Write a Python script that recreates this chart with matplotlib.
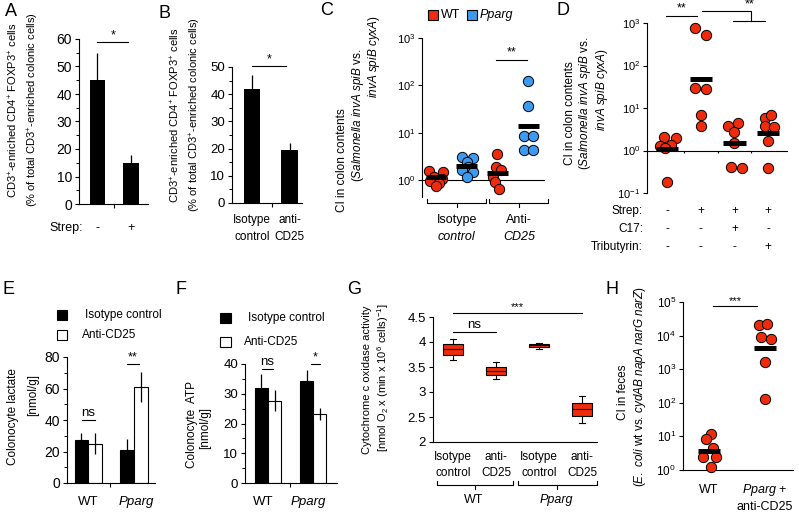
import matplotlib
matplotlib.use('Agg')
import matplotlib.pyplot as plt
import matplotlib.transforms as mtransforms
from matplotlib.patches import Rectangle
from matplotlib.ticker import NullLocator, MultipleLocator

plt.rcParams['font.family'] = ['Liberation Sans', 'DejaVu Sans']
plt.rcParams['mathtext.fontset'] = 'custom'
plt.rcParams['mathtext.rm'] = 'Liberation Sans'
plt.rcParams['mathtext.it'] = 'Liberation Sans:italic'
plt.rcParams['mathtext.bf'] = 'Liberation Sans:bold'
plt.rcParams['mathtext.default'] = 'regular'

# ---------------- data ----------------
# A
a_labels = ['-', '+']
a_means = [45, 15]
a_err = [10, 3]
# B
b_labels = ['Isotype\ncontrol', 'anti-\nCD25']
b_means = [42, 19.5]
b_err = [5, 2.5]
# C  (CI, log scale)
c_wt_iso = [1.55, 1.5, 1.15, 1.05, 0.95, 0.85, 0.76]
c_pp_iso = [3.1, 2.87, 2.45, 1.9, 1.63, 1.5, 1.18]
c_wt_anti = [3.55, 1.92, 1.63, 1.18, 0.89, 0.64]
c_pp_anti = [126, 35.8, 8.5, 8.5, 4.3, 4.4]
c_medians = [1.18, 1.98, 1.38, 13.5]
c_group_labels = [('Isotype', 'control'), ('Anti-', 'CD25')]
# D
d_g1 = [2.09, 2.0, 1.29, 1.38, 1.15, 0.18]
d_g2 = [765, 516, 29, 27.5, 6.8, 3.8]
d_g3 = [3.7, 4.4, 2.7, 1.5, 0.42, 0.38]
d_g4 = [5.8, 6.8, 3.8, 3.6, 1.63, 0.39]
d_medians = [1.1, 47, 1.49, 2.65]
d_rows = ['Strep:', 'C17:', 'Tributyrin:']
d_signs = [['-', '+', '+', '+'], ['-', '-', '+', '-'], ['-', '-', '-', '+']]
# E
e_groups = ['WT', 'Pparg']
e_iso = [27, 21]
e_iso_err = [4.5, 7]
e_anti = [25, 61]
e_anti_err = [6.5, 9.5]
# F
f_iso = [32, 34.2]
f_iso_err = [4.6, 3.8]
f_anti = [27.7, 23.3]
f_anti_err = [3.4, 2.0]
# G (box stats)
g_labels = ['Isotype\ncontrol', 'anti-\nCD25', 'Isotype\ncontrol', 'anti-\nCD25']
g_whislo = [3.65, 3.26, 3.87, 2.39]
g_q1 = [3.75, 3.34, 3.91, 2.53]
g_med = [3.86, 3.42, 3.94, 2.66]
g_q3 = [3.97, 3.51, 3.97, 2.79]
g_whishi = [4.07, 3.60, 3.99, 2.93]
# H
h_wt = [11.5, 8.2, 4.4, 2.5, 2.5, 1.2]
h_pp = [20400, 21800, 9100, 7800, 1650, 134]
h_medians = [3.7, 4300]

# ---------------- layout helpers ----------------
W, H = 799, 513
RED = '#EE2B0B'
BLUE = '#3C9BF0'
fig = plt.figure(figsize=(W / 100, H / 100), dpi=100)


def fy(y):
    return 1 - y / H


def add_ax(l, t, r, b):
    ax = fig.add_axes([l / W, 1 - b / H, (r - l) / W, (b - t) / H])
    ax.patch.set_alpha(0)
    for s in ['top', 'right']:
        ax.spines[s].set_visible(False)
    for s in ax.spines.values():
        s.set_linewidth(0.8)
    ax.tick_params(direction='out', length=3, width=0.8, pad=2)
    ax.tick_params(which='minor', direction='out', length=2, width=0.7)
    return ax


def btr(ax):
    return mtransforms.blended_transform_factory(ax.transData, fig.transFigure)


def ftext(x, y, s, **kw):
    fig.text(x / W, fy(y), s, **kw)


def vlabel(x, y, s, size=8):
    fig.text(x / W, fy(y), s, rotation=90, ha='center', va='center', fontsize=size)


def sig(ax, x0, x1, y, txt, size=9, off=0.5):
    ax.plot([x0, x1], [y, y], color='k', lw=0.8, clip_on=False)
    ax.annotate(txt, xy=((x0 + x1) / 2, y), xytext=(0, off), textcoords='offset points',
                ha='center', va='bottom', fontsize=size, annotation_clip=False)


def xlab(ax, x, ypix, s, size=8.5, **kw):
    ax.text(x, fy(ypix), s, transform=btr(ax), ha='center', va='center', fontsize=size, **kw)


def bracket(ax, x0, x1, xc, ypix, up=4, down=4):
    tr = btr(ax)
    y = fy(ypix)
    ax.plot([x0, x0, x1, x1], [y + up / H, y, y, y + up / H], transform=tr,
            color='k', lw=0.8, clip_on=False)
    ax.plot([xc, xc], [y, y - down / H], transform=tr, color='k', lw=0.8, clip_on=False)


def square(x0, y0, x1, y1, fc):
    fig.add_artist(Rectangle((x0 / W, fy(y1)), (x1 - x0) / W, (y1 - y0) / H,
                             transform=fig.transFigure, fc=fc, ec='k', lw=0.8))


def letter(x, y, s):
    ftext(x, y, s, fontsize=13, ha='center', va='center')


# ---------------- Panel A ----------------
letter(11, 12, 'A')
axA = add_ax(79, 39, 148, 204)
axA.bar([0, 1], a_means, width=0.45, color='k')
axA.errorbar([0, 1], a_means, yerr=[[0, 0], a_err], fmt='none', ecolor='k', elinewidth=0.9, capsize=0)
axA.set_ylim(0, 60)
axA.set_xlim(-0.552, 1.507)
axA.set_yticks(range(0, 61, 10))
axA.yaxis.set_minor_locator(MultipleLocator(5))
axA.tick_params(axis='y', labelsize=10)
axA.set_xticks([0.5])
axA.set_xticklabels([''])
sig(axA, -0.01, 0.92, 59, '*')
for i, s in enumerate(a_labels):
    xlab(axA, i, 228, s, size=9)
ftext(66, 228, 'Strep:', fontsize=9, ha='center', va='center')
vlabel(13, 110, 'CD3$^{+}$-enriched CD4$^{+}$ FOXP3$^{+}$ cells')
vlabel(33, 110, '(% of total CD3$^{+}$-enriched colonic cells)')

# ---------------- Panel B ----------------
letter(164, 13, 'B')
axB = add_ax(232, 67, 302, 203)
axB.bar([0, 1], b_means, width=0.43, color='k')
axB.errorbar([0, 1], b_means, yerr=[[0, 0], b_err], fmt='none', ecolor='k', elinewidth=0.9, capsize=0)
axB.set_ylim(0, 50)
axB.set_xlim(-0.533, 1.333)
axB.set_yticks(range(0, 51, 10))
axB.yaxis.set_minor_locator(MultipleLocator(5))
axB.tick_params(axis='y', labelsize=9.5)
axB.set_xticks([0.53])
axB.set_xticklabels([''])
sig(axB, 0.0, 0.9, 50.5, '*')
for i, s in enumerate(b_labels):
    a, b2 = s.split('\n')
    xlab(axB, i, 220, a, size=8.5)
    xlab(axB, i, 237, b2, size=8.5)
vlabel(175, 115, 'CD3$^{+}$-enriched CD4$^{+}$ FOXP3$^{+}$ cells')
vlabel(195, 115, '(% of total CD3$^{+}$-enriched colonic cells)')

# ---------------- Panel C ----------------
letter(327, 11, 'C')
axC = add_ax(422, 38, 545, 197)
axC.set_yscale('log')
axC.set_ylim(10 ** -0.36, 1000)
axC.set_xlim(-0.456, 3.55)
axC.spines['bottom'].set_visible(False)
axC.set_xticks([])
axC.axhline(1, color='k', lw=0.8, zorder=1)
axC.set_yticks([1, 10, 100, 1000])
axC.set_yticklabels(['$10^{0}$', '$10^{1}$', '$10^{2}$', '$10^{3}$'])
axC.yaxis.set_minor_locator(NullLocator())
axC.tick_params(axis='y', labelsize=8)
c_sets = [c_wt_iso, c_pp_iso, c_wt_anti, c_pp_anti]
c_offs = [[-0.22, 0.22, -0.05, 0.18, -0.2, 0.1, 0.0],
          [-0.16, 0.2, 0.0, 0.05, -0.16, 0.2, 0.0],
          [0.0, -0.06, 0.12, -0.15, -0.08, 0.05],
          [0.0, 0.0, -0.15, 0.15, -0.13, 0.15]]
c_cols = [RED, BLUE, RED, BLUE]
for i, vals in enumerate(c_sets):
    axC.scatter([i + o for o in c_offs[i]], vals, s=55, c=c_cols[i], edgecolors='k',
                linewidths=0.7, zorder=3, clip_on=False)
axC.hlines(c_medians, [i - 0.34 for i in range(4)], [i + 0.34 for i in range(4)],
           colors='k', lw=3.6, zorder=4)
sig(axC, 1.95, 2.97, 350, '**', size=9)
bracket(axC, -0.29, 1.63, 0.68, 203)
bracket(axC, 1.73, 3.65, 2.7, 203)
for xc, (l1, l2) in zip([0.68, 2.7], c_group_labels):
    xlab(axC, xc, 220, l1, size=9)
    xlab(axC, xc, 237, l2, size=9, style='italic')
square(428, 10, 438, 20, RED)
ftext(441, 15, 'WT', fontsize=9, va='center', ha='left')
square(467, 10, 477, 20, BLUE)
ftext(480, 15, 'Pparg', fontsize=9, va='center', ha='left', style='italic')
vlabel(342, 160, 'CI in colon contents', size=8.5)
vlabel(358, 115, r'($\mathit{Salmonella\ invA\ spiB}$ vs.', size=8.5)
vlabel(374, 57, r'$\mathit{invA\ spiB\ cyxA}$)', size=8.5)

# ---------------- Panel D ----------------
letter(563, 11, 'D')
axD = add_ax(647, 23, 788, 193)
axD.set_yscale('log')
axD.set_ylim(0.1, 1000)
axD.set_xlim(-0.593, 3.59)
axD.spines['bottom'].set_visible(False)
axD.set_xticks([])
axD.axhline(1, color='k', lw=0.8, zorder=1)
axD.vlines([0.5, 1.5, 2.5], 10 ** -0.07, 1, colors='k', lw=0.8)
axD.set_yticks([0.1, 1, 10, 100, 1000])
axD.set_yticklabels(['$10^{-1}$', '$10^{0}$', '$10^{1}$', '$10^{2}$', '$10^{3}$'])
axD.yaxis.set_minor_locator(NullLocator())
axD.tick_params(axis='y', labelsize=8)
d_sets = [d_g1, d_g2, d_g3, d_g4]
d_offs = [[-0.1, 0.27, -0.22, 0.12, -0.05, 0.0],
          [-0.17, 0.15, -0.17, 0.15, 0.0, 0.0],
          [-0.18, 0.12, 0.0, 0.0, -0.1, 0.22],
          [-0.1, 0.08, -0.1, 0.17, 0.0, 0.0]]
for i, vals in enumerate(d_sets):
    axD.scatter([i + o for o in d_offs[i]], vals, s=55, c=RED, edgecolors='k',
                linewidths=0.7, zorder=3, clip_on=False)
axD.hlines(d_medians, [i - 0.33 for i in range(4)], [i + 0.33 for i in range(4)],
           colors='k', lw=3.6, zorder=4)
sig(axD, -0.03, 0.89, 1500, '**', size=9)
axD.plot([1.04, 2.49, 2.49], [1870, 1870, 1140], color='k', lw=0.8, clip_on=False)
axD.plot([1.96, 2.91], [1140, 1140], color='k', lw=0.8, clip_on=False)
axD.annotate('**', xy=(2.45, 1870), xytext=(0, 0.5), textcoords='offset points',
             ha='center', va='bottom', fontsize=9, annotation_clip=False)
for r, (name, signs) in enumerate(zip(d_rows, d_signs)):
    yp = 211 + 18 * r
    ftext(643, yp, name, fontsize=8.5, ha='right', va='center')
    for i, s in enumerate(signs):
        xlab(axD, i, yp, s, size=8.5)
vlabel(570, 113, 'CI in colon contents', size=8.5)
vlabel(585, 103, r'($\mathit{Salmonella\ invA\ spiB}$ vs.', size=8.5)
vlabel(602, 90, r'$\mathit{invA\ spiB\ cyxA}$)', size=8.5)

# ---------------- Panel E ----------------
letter(9, 290, 'E')
axE = add_ax(67, 357, 155, 483)
xg = [0, 1]
axE.bar([x - 0.148 for x in xg], e_iso, width=0.295, color='k', edgecolor='k', lw=0.8)
axE.bar([x + 0.148 for x in xg], e_anti, width=0.295, color='white', edgecolor='k', lw=0.8)
axE.errorbar([x - 0.148 for x in xg], e_iso, yerr=e_iso_err, fmt='none', ecolor='k', elinewidth=0.9, capsize=0)
axE.errorbar([x + 0.148 for x in xg], e_anti, yerr=e_anti_err, fmt='none', ecolor='k', elinewidth=0.9, capsize=0)
axE.set_ylim(0, 80)
axE.set_xlim(-0.464, 1.459)
axE.set_yticks(range(0, 81, 20))
axE.yaxis.set_minor_locator(MultipleLocator(10))
axE.tick_params(axis='y', labelsize=10)
axE.set_xticks([0.48])
axE.set_xticklabels([''])
sig(axE, -0.14, 0.15, 40, 'ns', size=9.5)
sig(axE, 0.85, 1.11, 75.5, '**', size=9)
xlab(axE, 0, 502, 'WT', size=9.5)
xlab(axE, 1.05, 502, 'Pparg', size=9.5, style='italic')
square(57, 310, 67, 320, 'k')
ftext(85, 315, 'Isotype control', fontsize=8.5, va='center', ha='left')
square(57, 330, 67, 340, 'white')
ftext(82, 335, 'Anti-CD25', fontsize=8.5, va='center', ha='left')
vlabel(13, 417, 'Colonocyte lactate', size=8.5)
vlabel(33, 395, '[nmol/g]', size=8.5)

# ---------------- Panel F ----------------
letter(181, 290, 'F')
axF = add_ax(245, 364, 337, 483)
axF.bar([x - 0.146 for x in xg], f_iso, width=0.29, color='k', edgecolor='k', lw=0.8)
axF.bar([x + 0.146 for x in xg], f_anti, width=0.29, color='white', edgecolor='k', lw=0.8)
axF.errorbar([x - 0.146 for x in xg], f_iso, yerr=f_iso_err, fmt='none', ecolor='k', elinewidth=0.9, capsize=0)
axF.errorbar([x + 0.146 for x in xg], f_anti, yerr=f_anti_err, fmt='none', ecolor='k', elinewidth=0.9, capsize=0)
axF.set_ylim(0, 40)
axF.set_xlim(-0.508, 1.523)
axF.set_yticks(range(0, 41, 10))
axF.yaxis.set_minor_locator(MultipleLocator(5))
axF.tick_params(axis='y', labelsize=9.5)
axF.set_xticks([0.49])
axF.set_xticklabels([''])
sig(axF, -0.14, 0.12, 38.4, 'ns', size=9.5)
sig(axF, 0.94, 1.15, 40, '*', size=9)
xlab(axF, -0.1, 502, 'WT', size=9.5)
xlab(axF, 0.88, 502, 'Pparg', size=9.5, style='italic')
square(220, 313, 231, 323, 'k')
ftext(248, 318, 'Isotype control', fontsize=8.5, va='center', ha='left')
square(220, 337, 231, 347, 'white')
ftext(244, 342, 'Anti-CD25', fontsize=8.5, va='center', ha='left')
vlabel(192, 425, 'Colonocyte  ATP', size=8.5)
vlabel(205, 428, '[nmol/g]', size=8.5)

# ---------------- Panel G ----------------
letter(354, 289, 'G')
axG = add_ax(433, 317, 597, 442)
stats = [dict(med=m, q1=a, q3=b, whislo=lo, whishi=hi, fliers=[])
         for m, a, b, lo, hi in zip(g_med, g_q1, g_q3, g_whislo, g_whishi)]
axG.bxp(stats, positions=[0, 1, 2, 3], widths=0.465, patch_artist=True, showfliers=False,
        boxprops=dict(facecolor=RED, edgecolor='k', lw=0.8),
        medianprops=dict(color='k', lw=0.8),
        whiskerprops=dict(color='k', lw=0.8),
        capprops=dict(color='k', lw=0.8), capwidths=0.15)
axG.set_ylim(2, 4.5)
axG.set_xlim(-0.465, 3.35)
axG.set_yticks([2, 2.5, 3, 3.5, 4, 4.5])
axG.set_yticklabels(['2', '2.5', '3', '3.5', '4', '4.5'])
axG.tick_params(axis='y', labelsize=9.5)
axG.set_xticks([])
sig(axG, 0, 1, 4.2, 'ns', size=9.5)
sig(axG, 0, 3, 4.58, '***', size=8)
for i, s in enumerate(g_labels):
    a, b2 = s.split('\n')
    xlab(axG, i, 457, a, size=8.5)
    xlab(axG, i, 473, b2, size=8.5)
bracket(axG, -0.38, 1.4, 0.51, 485)
bracket(axG, 1.52, 3.34, 2.43, 485)
xlab(axG, 0.47, 500, 'WT', size=9)
xlab(axG, 2.41, 500, 'Pparg', size=9, style='italic')
vlabel(367, 380, 'Cytochrome c oxidase activity', size=8)
vlabel(383, 378, '[nmol O$_{2}$ x (min x 10$^{6}$ cells)$^{-1}$]', size=8)

# ---------------- Panel H ----------------
letter(612, 289, 'H')
axH = add_ax(683, 302, 793, 470)
axH.set_yscale('log')
axH.set_ylim(1, 1e5)
axH.set_xlim(-0.464, 1.5)
axH.set_xticks([])
axH.set_yticks([1, 10, 100, 1000, 10000, 100000])
axH.set_yticklabels(['$10^{0}$', '$10^{1}$', '$10^{2}$', '$10^{3}$', '$10^{4}$', '$10^{5}$'])
axH.yaxis.set_minor_locator(NullLocator())
axH.tick_params(axis='y', labelsize=8.5)
h_offs = [[0.04, -0.05, 0.08, -0.1, 0.12, 0.03],
          [-0.11, 0.04, -0.08, 0.1, 0.0, 0.0]]
for i, vals in enumerate([h_wt, h_pp]):
    axH.scatter([i + o for o in h_offs[i]], vals, s=55, c=RED, edgecolors='k',
                linewidths=0.7, zorder=3, clip_on=False)
axH.hlines(h_medians, [i - 0.2 for i in range(2)], [i + 0.2 for i in range(2)],
           colors='k', lw=3.6, zorder=4)
sig(axH, 0.07, 0.86, 74000, '***', size=8)
xlab(axH, 0, 490, 'WT', size=9)
xlab(axH, 1, 490, r'$\mathit{Pparg}$ +', size=9)
xlab(axH, 1, 507, 'anti-CD25', size=9)
vlabel(623, 392, 'CI in feces', size=8.5)
vlabel(640, 386, r'($\mathit{E.\ coli}$ wt vs. $\mathit{cydAB\ napA\ narG\ narZ}$)', size=8.5)

fig.savefig('out.png', dpi=100)
